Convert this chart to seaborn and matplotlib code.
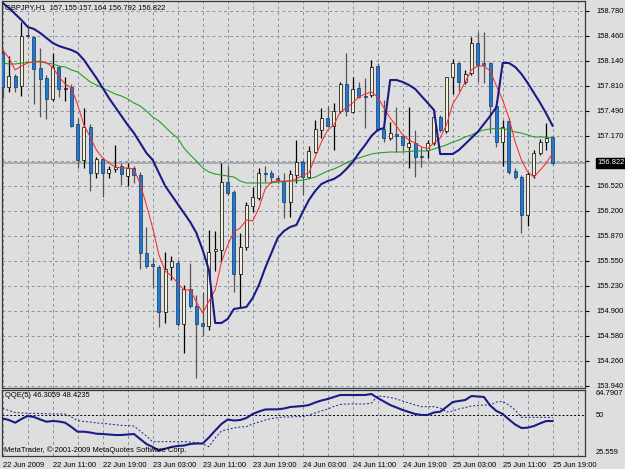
import numpy as np
import pandas as pd
import matplotlib
matplotlib.use("Agg")
import matplotlib.pyplot as plt
import seaborn as sns

# GBPJPY H1 candles, 22 Jun 03:00 .. 25 Jun 19:00
opens = [158.238, 157.799, 157.941, 157.812, 158.464, 158.448, 158.044, 157.915, 157.644, 158.057,
         157.773, 157.799, 157.322, 156.857, 157.283, 156.689, 156.870, 156.689, 156.741, 156.779,
         156.650, 156.754, 156.663, 155.657, 155.515, 155.476, 154.895, 155.476, 155.527, 154.740,
         155.192, 154.973, 154.753, 154.714, 155.682, 155.695, 156.573, 156.444, 155.386, 155.734,
         156.263, 156.366, 156.689, 156.689, 156.625, 156.586, 156.315, 156.663, 156.831, 156.637,
         156.960, 157.244, 157.399, 157.300, 157.489, 157.838, 157.476, 157.786, 157.683, 157.696,
         158.070, 157.257, 157.141, 157.192, 157.167, 157.025, 157.076, 156.902, 156.986, 157.076,
         157.412, 157.231, 157.928, 158.109, 157.864, 157.980, 158.367, 158.109, 158.109, 157.554,
         157.089, 157.360, 156.715, 156.637, 156.147, 156.663, 156.947, 157.089, 157.155]
highs = [158.277, 158.193, 157.967, 158.642, 158.574, 158.457, 158.302, 157.954, 158.238, 158.070,
         157.928, 157.838, 157.399, 157.528, 157.322, 156.896, 156.896, 156.779, 157.051, 156.818,
         156.818, 156.779, 156.702, 155.992, 155.592, 155.502, 155.670, 155.618, 155.566, 155.244,
         155.527, 155.115, 155.153, 155.953, 155.940, 156.818, 156.779, 156.470, 155.915, 156.315,
         156.508, 156.754, 156.779, 156.728, 156.663, 156.689, 156.728, 157.115, 156.857, 157.038,
         157.373, 157.528, 157.554, 157.593, 157.864, 158.238, 157.928, 157.864, 157.915, 158.148,
         158.109, 157.631, 157.347, 157.541, 157.192, 157.541, 157.244, 157.025, 157.115, 157.502,
         157.438, 157.928, 158.160, 158.122, 158.018, 158.444, 158.509, 158.509, 158.122, 157.593,
         157.373, 157.399, 156.754, 156.663, 156.702, 156.986, 157.128, 157.334, 157.164]
lows = [157.657, 157.735, 157.735, 157.683, 158.432, 157.580, 157.412, 157.386, 157.618, 157.670,
        157.618, 157.283, 156.754, 156.754, 156.457, 156.625, 156.379, 156.625, 156.702, 156.534,
        156.521, 156.560, 155.450, 155.463, 155.205, 154.701, 154.753, 155.308, 154.714, 154.366,
        154.947, 154.043, 154.585, 154.663, 155.424, 155.540, 156.405, 155.153, 154.947, 155.695,
        156.186, 156.341, 156.573, 156.560, 156.560, 156.108, 156.121, 156.560, 156.405, 156.625,
        156.947, 157.141, 157.283, 156.986, 157.464, 157.425, 157.464, 157.657, 157.270, 157.670,
        157.231, 157.089, 157.115, 156.960, 156.973, 156.754, 156.637, 156.767, 156.883, 157.051,
        157.218, 157.205, 157.709, 157.748, 157.838, 157.954, 157.864, 157.851, 157.205, 157.025,
        156.779, 156.676, 156.612, 155.915, 156.005, 156.625, 156.921, 156.986, 156.792]
closes = [157.799, 157.941, 157.799, 158.451, 158.451, 158.028, 157.902, 157.644, 158.057, 157.773,
          157.786, 157.296, 156.857, 157.283, 156.689, 156.870, 156.689, 156.741, 156.767, 156.676,
          156.754, 156.663, 155.657, 155.489, 155.489, 154.895, 155.450, 155.553, 154.740, 155.192,
          154.973, 154.740, 154.714, 155.670, 155.708, 156.573, 156.431, 155.386, 155.734, 156.276,
          156.379, 156.689, 156.676, 156.637, 156.599, 156.315, 156.676, 156.831, 156.637, 156.973,
          157.257, 157.399, 157.300, 157.489, 157.838, 157.489, 157.773, 157.670, 157.670, 158.057,
          157.257, 157.141, 157.205, 157.167, 157.051, 157.076, 156.896, 156.896, 157.076, 157.412,
          157.244, 157.928, 158.109, 157.864, 157.967, 158.367, 158.083, 158.089, 157.554, 157.089,
          157.283, 156.702, 156.637, 156.147, 156.676, 156.947, 157.089, 157.141, 156.822]

# overlay lines
navy_line = [158.883, 158.819, 158.741, 158.664, 158.574, 158.548, 158.496, 158.432, 158.367, 158.328,
             158.302, 158.277, 158.238, 158.148, 158.031, 157.915, 157.786, 157.657, 157.541, 157.425,
             157.309, 157.205, 157.076, 156.947, 156.857, 156.689, 156.521, 156.405, 156.289, 156.173,
             156.057, 155.915, 155.695, 155.437, 154.753, 154.753, 154.805, 154.934, 154.947, 154.960,
             155.076, 155.244, 155.463, 155.657, 155.850, 155.940, 155.992, 156.018, 156.186, 156.341,
             156.457, 156.547, 156.586, 156.612, 156.663, 156.741, 156.831, 156.947, 157.051, 157.167,
             157.244, 157.270, 157.889, 157.889, 157.864, 157.825, 157.773, 157.683, 157.593, 157.502,
             156.934, 156.934, 156.934, 156.986, 157.063, 157.141, 157.218, 157.322, 157.425, 157.541,
             158.109, 158.109, 158.057, 157.967, 157.851, 157.722, 157.593, 157.451, 157.296]
red_ma = [158.277, 158.174, 158.019, 158.070, 158.109, 158.122, 158.135, 158.109, 158.057, 157.928,
          157.838, 157.786, 157.567, 157.309, 157.154, 156.986, 156.883, 156.818, 156.767, 156.754,
          156.754, 156.741, 156.547, 156.276, 155.979, 155.631, 155.424, 155.360, 155.269, 155.179,
          155.179, 155.024, 154.882, 155.037, 155.179, 155.540, 155.760, 155.928, 155.979, 156.083,
          156.070, 156.237, 156.483, 156.573, 156.586, 156.586, 156.586, 156.612, 156.663, 156.689,
          156.896, 157.089, 157.244, 157.309, 157.476, 157.528, 157.593, 157.670, 157.709, 157.735,
          157.670, 157.528, 157.399, 157.296, 157.180, 157.115, 157.076, 157.025, 157.005, 157.076,
          157.141, 157.309, 157.580, 157.709, 157.864, 158.019, 158.070, 158.070, 158.006, 157.812,
          157.631, 157.399, 157.089, 156.857, 156.702, 156.637, 156.728, 156.818, 156.947]
green_ma = [158.109, 158.096, 158.096, 158.109, 158.115, 158.122, 158.122, 158.109, 158.096, 158.070,
            158.057, 158.019, 157.993, 157.928, 157.864, 157.825, 157.786, 157.748, 157.709, 157.683,
            157.644, 157.593, 157.554, 157.489, 157.412, 157.360, 157.283, 157.205, 157.141, 157.012,
            156.922, 156.844, 156.754, 156.702, 156.676, 156.663, 156.650, 156.637, 156.586, 156.560,
            156.560, 156.560, 156.560, 156.560, 156.573, 156.573, 156.586, 156.586, 156.599, 156.612,
            156.637, 156.676, 156.715, 156.741, 156.779, 156.818, 156.857, 156.883, 156.909, 156.934,
            156.947, 156.954, 156.960, 156.960, 156.960, 156.967, 156.973, 156.973, 156.973, 156.999,
            157.025, 157.051, 157.089, 157.115, 157.154, 157.180, 157.218, 157.244, 157.257, 157.264,
            157.264, 157.244, 157.218, 157.205, 157.180, 157.154, 157.154, 157.154, 157.141]

# QQE(5) sub-window
qqe_rsi = [47.85, 46.96, 45.35, 47.55, 49.33, 48.74, 47.26, 45.95, 46.36, 46.07,
           45.35, 42.80, 40.00, 40.00, 39.53, 38.81, 38.64, 38.34, 38.04, 38.04,
           38.34, 38.64, 35.66, 32.69, 30.91, 28.83, 29.90, 30.91, 31.50, 31.80,
           32.69, 32.99, 32.99, 36.56, 40.72, 44.58, 47.26, 46.66, 46.96, 48.15,
           50.53, 52.01, 53.20, 53.30, 53.30, 53.79, 54.68, 54.98, 55.28, 55.87,
           57.36, 58.55, 59.44, 60.63, 61.82, 61.82, 61.82, 61.82, 61.82, 62.41,
           60.03, 57.95, 55.87, 54.39, 52.90, 51.71, 50.53, 49.93, 49.93, 51.42,
           51.89, 54.68, 57.66, 58.25, 58.85, 61.22, 60.93, 60.63, 55.58, 52.31,
           50.53, 47.26, 44.28, 42.20, 42.38, 43.39, 44.99, 46.36, 46.31]
qqe_trail = [53.79, 52.60, 51.42, 51.12, 50.94, 50.94, 50.82, 50.70, 50.53, 50.53,
             50.53, 48.74, 46.54, 46.07, 45.77, 45.17, 45.00, 44.58, 44.16, 43.81,
             43.57, 43.39, 40.42, 37.45, 34.06, 34.06, 34.06, 34.06, 34.06, 34.06,
             33.88, 33.58, 32.69, 31.09, 36.26, 40.42, 41.42, 42.20, 42.80, 42.97,
             44.58, 45.77, 46.96, 47.85, 48.32, 48.74, 48.74, 48.92, 48.92, 49.93,
             51.12, 52.31, 53.50, 54.98, 56.17, 56.47, 56.47, 56.47, 56.47, 57.06,
             61.22, 60.93, 60.33, 59.44, 58.25, 57.06, 55.87, 54.86, 54.86, 54.86,
             54.09, 51.71, 52.31, 53.50, 54.39, 55.28, 55.58, 55.87, 55.87, 57.66,
             57.95, 55.87, 52.90, 48.56, 48.56, 48.56, 48.56, 48.56, 48.42]

price_labels = ["153.940", "154.260", "154.580", "154.900", "155.230", "155.550", "155.870", "156.200",
                "156.520", "", "157.170", "157.490", "157.810", "158.140", "158.460", "158.780"]
time_labels = ["22 Jun 2009", "22 Jun 11:00", "22 Jun 19:00", "23 Jun 03:00", "23 Jun 11:00",
               "23 Jun 19:00", "24 Jun 03:00", "24 Jun 11:00", "24 Jun 19:00", "25 Jun 03:00",
               "25 Jun 11:00", "25 Jun 19:00"]
qqe_labels = ["25.559", "50", "64.7907"]
last_price = 156.822

sns.set_style("white")
plt.rcParams["font.family"] = ["Liberation Sans", "DejaVu Sans"]

W, H = 625, 469
BG = "#dedede"
GRID = "#8593a3"
NAVY = "#1b1b87"
BULL = "#f3efdc"
BEAR = "#1e7ad4"
FS = 5.4

df = pd.DataFrame({"bar": np.arange(len(closes)), "open": opens, "high": highs, "low": lows,
                   "close": closes, "navy": navy_line, "red": red_ma, "green": green_ma,
                   "qqe": qqe_rsi, "trail": qqe_trail})
df["up"] = df["close"] >= df["open"]


def rect(x0, y0, x1, y1):
    return [x0 / W, 1 - y1 / H, (x1 - x0) / W, (y1 - y0) / H]


fig = plt.figure(figsize=(W / 100, H / 100), dpi=100, facecolor=BG)
ax = fig.add_axes(rect(2, 1, 585, 388))
ax2 = fig.add_axes(rect(2, 390, 585, 456))

for a in (ax, ax2):
    a.set_facecolor(BG)
    a.set_xlim(-0.11, 93.17)
    for sp in a.spines.values():
        sp.set_color("#3a3a3a")
        sp.set_linewidth(0.9)
    a.set_xticks(np.arange(0, 93, 4), minor=True)
    a.set_xticks(np.arange(0, 89, 8))
    a.grid(which="both", axis="x", color=GRID, linestyle=(0, (3, 3)), linewidth=0.7)
    a.set_axisbelow(True)

# --- price panel ---
ax.set_ylim(153.914, 158.909)
ax.yaxis.tick_right()
ax.set_yticks(np.linspace(153.94, 158.78, len(price_labels)))
ax.set_yticklabels(price_labels)
ax.grid(axis="y", color=GRID, linestyle=(0, (3, 3)), linewidth=0.7)
ax.tick_params(axis="y", length=3, width=0.8, pad=5, labelsize=FS, colors="black")
ax.tick_params(axis="x", which="both", length=0, labelbottom=False)

ax.axhline(last_price, color="#a4a4a4", linewidth=1.2, zorder=1)

up = df[df["up"]]
dn = df[~df["up"]]
ax.vlines(up["bar"], up["low"], up["high"], colors="black", linewidth=0.9, zorder=2)
ax.vlines(dn["bar"], dn["low"], dn["high"], colors="#555555", linewidth=0.9, zorder=2)
ax.bar(up["bar"], up["close"] - up["open"], bottom=up["open"], width=0.48,
       color=BULL, edgecolor="black", linewidth=0.5, zorder=3)
ax.bar(dn["bar"], dn["open"] - dn["close"], bottom=dn["close"], width=0.48,
       color=BEAR, edgecolor="#15365f", linewidth=0.5, zorder=3)

sns.lineplot(data=df, x="bar", y="green", ax=ax, color="#1f9a1f", linewidth=0.75, zorder=4)
sns.lineplot(data=df, x="bar", y="red", ax=ax, color="#ff2a2a", linewidth=0.75, zorder=5)
sns.lineplot(data=df, x="bar", y="navy", ax=ax, color=NAVY, linewidth=1.5, zorder=6)
ax.set_xlabel("")
ax.set_ylabel("")

ax.text(1.0205, last_price, f"{last_price:.3f}", transform=ax.get_yaxis_transform(),
        ha="left", va="center", color="white", fontsize=FS, clip_on=False,
        bbox=dict(boxstyle="square,pad=0.18", fc="black", ec="black"))

# --- QQE panel ---
ax2.set_ylim(25.559, 64.7907)
ax2.yaxis.tick_right()
ax2.set_yticks([25.559, 50, 64.7907])
ax2.set_yticklabels(qqe_labels)
ytl = ax2.get_yticklabels()
ytl[0].set_va("bottom")
ytl[2].set_va("top")
ax2.tick_params(axis="y", length=0, pad=8, labelsize=FS, colors="black")
ax2.axhline(50, color="black", linestyle=(0, (2, 2)), linewidth=0.7, zorder=2)
sns.lineplot(data=df, x="bar", y="trail", ax=ax2, color=NAVY, linewidth=0.7,
             linestyle=(0, (2, 2)), zorder=3)
sns.lineplot(data=df, x="bar", y="qqe", ax=ax2, color=NAVY, linewidth=1.5, zorder=4)
ax2.set_xlabel("")
ax2.set_ylabel("")
ax2.set_xticklabels(time_labels)
for lbl in ax2.get_xticklabels():
    lbl.set_ha("left")
ax2.tick_params(axis="x", which="major", length=3, width=0.8, pad=1.5, labelsize=FS, colors="black")
ax2.tick_params(axis="x", which="minor", length=0)

fig.text(5 / W, 1 - 8 / H, "GBPJPY,H1  157.155 157.164 156.792 156.822",
         fontsize=FS, va="center", ha="left", color="black")
fig.text(5 / W, 1 - 395 / H, "QQE(5) 46.3059 48.4235",
         fontsize=FS, va="center", ha="left", color="black")
fig.text(4 / W, 1 - 450 / H, "MetaTrader, \u00a9 2001-2009 MetaQuotes Software Corp.",
         fontsize=FS, va="center", ha="left", color="black")

fig.savefig("out.png", dpi=100, facecolor=BG)
